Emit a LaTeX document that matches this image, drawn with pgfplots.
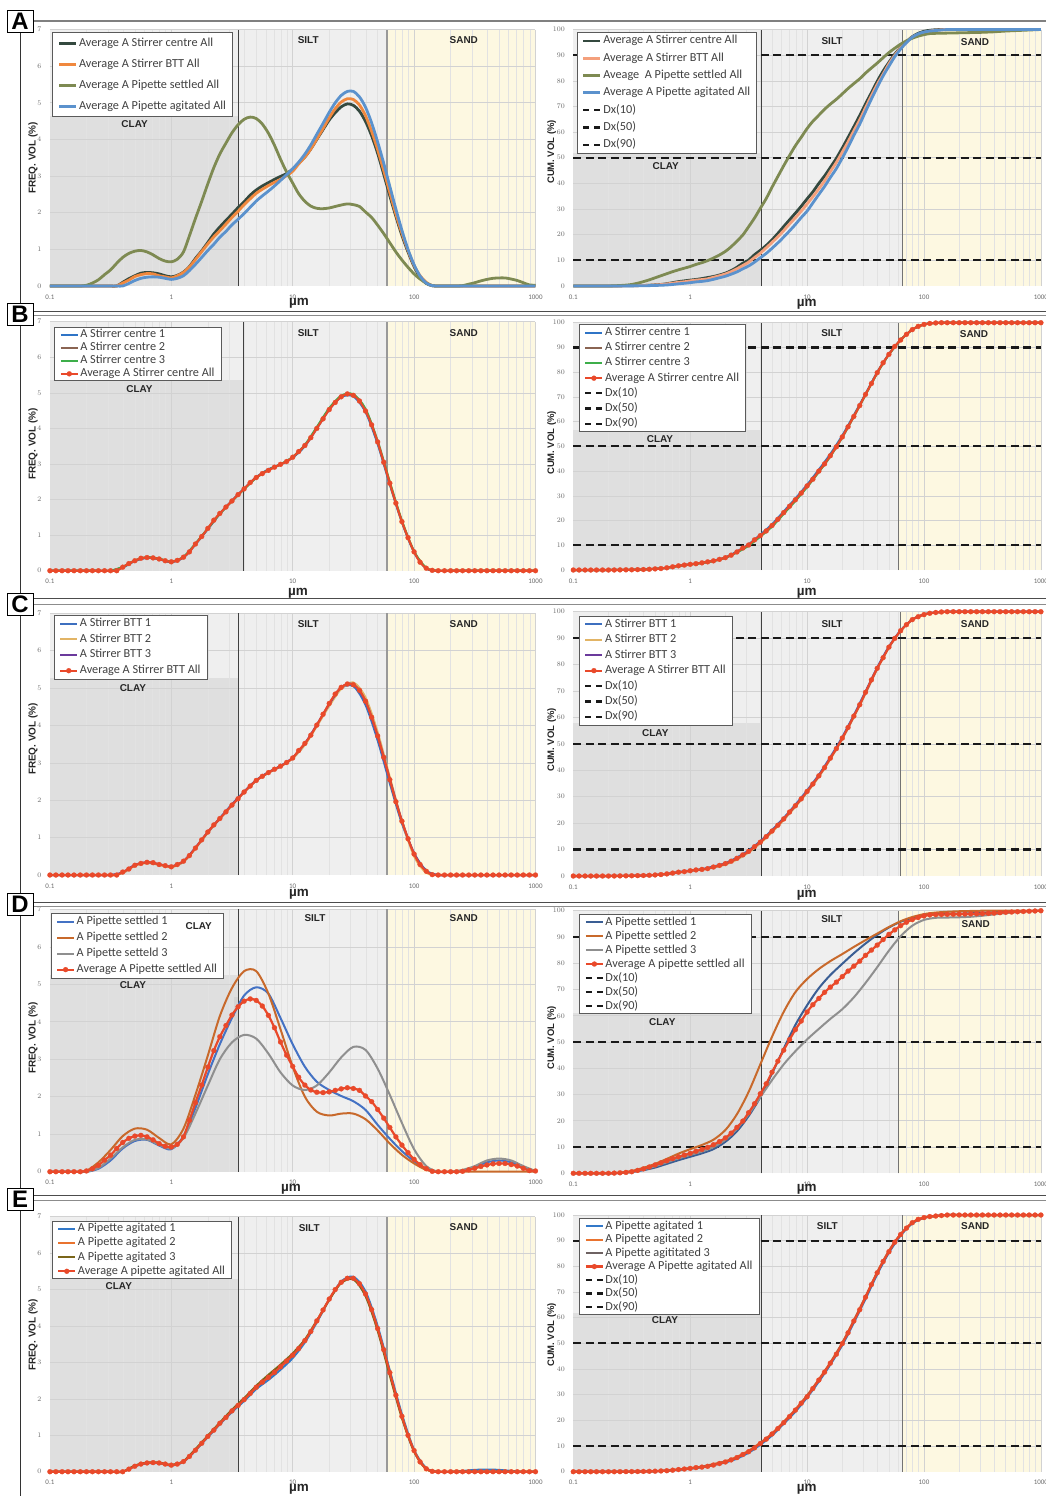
\documentclass[border=0pt]{standalone}
\usepackage{pgfplots}
\pgfplotsset{compat=1.18}
\usepackage{pgfplotstable}
\usepackage{fontspec}
\setmainfont{Carlito}
\newfontfamily\arialf{Liberation Sans}

\definecolor{clayc}{HTML}{DFDFDF}
\definecolor{siltc}{HTML}{EFEFEF}
\definecolor{sandc}{HTML}{FDF8E1}
\definecolor{gridmaj}{HTML}{D2D2D2}
\definecolor{gridmin}{HTML}{E2E2E2}
\definecolor{tickc}{HTML}{6A6A6A}
\definecolor{legtext}{HTML}{404040}
\definecolor{legdraw}{HTML}{5A5A5A}
\definecolor{cAcent}{HTML}{34493F}
\definecolor{cAbttL}{HTML}{F0883E}
\definecolor{cAbttR}{HTML}{F4A07C}
\definecolor{cAset}{HTML}{7E8A52}
\definecolor{cAagi}{HTML}{5B92CD}
\definecolor{cRed}{HTML}{E9492A}
\definecolor{cBone}{HTML}{2F74C6}
\definecolor{cBtwo}{HTML}{8A6452}
\definecolor{cBthree}{HTML}{3DAE4A}
\definecolor{cCone}{HTML}{3D6FBF}
\definecolor{cCtwo}{HTML}{E2B465}
\definecolor{cCthree}{HTML}{6B3A9C}
\definecolor{cDone}{HTML}{4472C4}
\definecolor{cDoneR}{HTML}{3A5E94}
\definecolor{cDtwo}{HTML}{C8692B}
\definecolor{cDthree}{HTML}{8F8F8F}
\definecolor{cEone}{HTML}{3278C8}
\definecolor{cEtwo}{HTML}{E9732F}
\definecolor{cEthreeL}{HTML}{7A6519}
\definecolor{cEthreeR}{HTML}{6E6262}

% ---------- averages of every set, 20 size classes per decade ----------
% Bf..Ef: FREQ. VOL (%) ; Bc..Ec: CUM. VOL (%)
\pgfplotstableread{
x Bf Cf Df Ef Bc Cc Dc Ec
0.1 0 0 0 0 0 0 0 0
0.112 0 0 0 0 0 0 0 0
0.126 0 0 0 0 0 0 0 0
0.141 0 0 0 0 0 0 0 0
0.158 0 0 0 0 0 0 0 0
0.178 0 0 0 0 0 0 0 0
0.2 0 0 0.02 0 0 0 0.02 0
0.224 0 0 0.08 0 0.02 0.02 0.08 0
0.251 0 0 0.17 0 0.05 0.05 0.2 0.02
0.282 0 0 0.31 0 0.08 0.07 0.35 0.04
0.316 0 0 0.44 0 0.1 0.1 0.6 0.05
0.355 0 0 0.62 0 0.15 0.15 1.1 0.08
0.398 0.1 0.08 0.78 0 0.2 0.2 1.7 0.1
0.447 0.2 0.16 0.89 0.07 0.3 0.28 2.4 0.15
0.501 0.28 0.26 0.95 0.15 0.45 0.4 3.2 0.2
0.562 0.35 0.31 0.97 0.21 0.6 0.55 4 0.3
0.631 0.37 0.34 0.93 0.24 0.9 0.8 4.8 0.4
0.708 0.36 0.33 0.85 0.25 1.3 1.1 5.6 0.6
0.794 0.33 0.28 0.75 0.24 1.7 1.45 6.3 0.85
0.891 0.28 0.25 0.68 0.21 2 1.65 6.95 1.05
1 0.25 0.22 0.66 0.18 2.3 2 7.6 1.3
1.12 0.29 0.28 0.73 0.21 2.55 2.3 8.4 1.6
1.26 0.38 0.37 0.93 0.28 2.9 2.5 9.1 1.8
1.41 0.53 0.52 1.37 0.42 3.3 2.8 9.9 2.1
1.58 0.75 0.72 1.84 0.59 3.7 3.4 10.9 2.6
1.78 0.96 0.94 2.31 0.78 4.3 4 12.1 3.2
2 1.19 1.15 2.79 0.97 5 4.7 13.5 3.8
2.24 1.42 1.34 3.23 1.14 6 5.6 15.3 4.6
2.51 1.61 1.51 3.6 1.33 7.3 6.7 17.5 5.5
2.82 1.79 1.69 3.9 1.49 8.9 8 19.9 6.7
3.16 1.96 1.87 4.18 1.67 10.1 9.3 23.1 7.8
3.55 2.14 2.04 4.4 1.82 12.2 11.1 26.5 9.3
3.98 2.3 2.22 4.55 1.98 13.9 12.8 30.3 11
4.47 2.48 2.38 4.61 2.15 15.8 14.9 34.1 12.7
5.01 2.62 2.53 4.57 2.32 18 17 38.5 14.7
5.62 2.73 2.64 4.42 2.46 20.5 19.2 42.7 16.8
6.31 2.82 2.74 4.17 2.59 23.2 21.6 46.9 19.1
7.08 2.91 2.83 3.84 2.73 25.8 24.2 50.9 21.5
7.94 2.99 2.91 3.46 2.88 28.4 26.6 54.7 24
8.91 3.07 3.01 3.11 3.04 31.1 29.2 58 26.7
10 3.19 3.13 2.81 3.2 34 32 61.4 29.2
11.2 3.35 3.33 2.52 3.38 36.7 34.8 64.2 32.4
12.6 3.52 3.52 2.31 3.6 40 37.9 66.6 35.7
14.1 3.74 3.74 2.18 3.85 42.9 41 68.9 38.8
15.8 4 4.01 2.12 4.14 46.2 44.6 70.9 42.3
17.8 4.27 4.3 2.11 4.44 49.8 48.2 72.8 45.8
20 4.53 4.59 2.13 4.74 53.8 52.2 74.9 49.9
22.4 4.73 4.84 2.17 5 57.9 56.2 77 54.1
25.1 4.89 5.02 2.21 5.2 62.1 60.5 78.9 58.7
28.2 4.97 5.11 2.24 5.31 66.5 64.8 80.8 63.1
31.6 4.93 5.09 2.22 5.31 71 69.5 83 68
35.5 4.77 4.94 2.17 5.16 75.4 74.2 85 72.9
39.8 4.49 4.65 2.02 4.88 79.8 78.6 86.9 77.5
44.7 4.1 4.22 1.87 4.45 83.8 82.6 89 81.9
50.1 3.62 3.72 1.66 3.93 87.2 86.6 91 85.7
56.2 3.05 3.15 1.43 3.35 90.4 89.9 92.7 89.4
63.1 2.46 2.55 1.18 2.72 93 92.8 94.3 92.4
70.8 1.9 1.96 0.93 2.1 95.3 95.1 95.6 94.9
79.4 1.38 1.44 0.71 1.52 97.2 97 96.6 97
89.1 0.93 0.97 0.51 1 98.5 98.1 97.4 98.3
100 0.53 0.56 0.33 0.58 99.3 98.9 98 99
112 0.24 0.28 0.19 0.27 99.7 99.4 98.4 99.4
126 0.07 0.1 0.08 0.08 99.9 99.7 98.5 99.6
141 0.01 0.01 0.01 0.01 100 99.9 98.55 99.8
158 0 0 0 0 100 100 98.6 100
178 0 0 0 0 100 100 98.65 100
200 0 0 0 0 100 100 98.7 100
224 0 0 0 0 100 100 98.75 100
251 0 0 0.01 0 100 100 98.8 100
282 0 0 0.05 0 100 100 98.85 100
316 0 0 0.09 0 100 100 98.9 100
355 0 0 0.14 0 100 100 99 100
398 0 0 0.18 0 100 100 99.1 100
447 0 0 0.21 0 100 100 99.25 100
501 0 0 0.22 0 100 100 99.4 100
562 0 0 0.22 0 100 100 99.5 100
631 0 0 0.19 0 100 100 99.6 100
708 0 0 0.15 0 100 100 99.7 100
794 0 0 0.09 0 100 100 99.8 100
891 0 0 0.03 0 100 100 99.9 100
1000 0 0 0.02 0 100 100 100 100
}\tabAvg

% ---------- individual runs, FREQ. VOL (%) ----------
\pgfplotstableread{
x s1 s2 s3
0.1 0 0 0
0.126 0 0 0
0.158 0 0 0
0.2 0 0 0
0.251 0 0 0
0.316 0 0 0
0.398 0.09 0.1 0.11
0.501 0.27 0.28 0.29
0.631 0.36 0.37 0.38
0.794 0.32 0.33 0.34
1 0.24 0.25 0.26
1.26 0.37 0.38 0.39
1.58 0.74 0.75 0.76
2 1.17 1.18 1.19
2.51 1.6 1.6 1.6
3.16 1.97 1.96 1.95
3.98 2.31 2.3 2.29
5.01 2.63 2.62 2.61
6.31 2.85 2.84 2.83
7.94 2.99 2.99 2.99
10 3.18 3.19 3.2
12.6 3.5 3.52 3.54
15.8 4 4.02 4.04
20 4.53 4.55 4.57
25.1 4.88 4.9 4.92
31.6 4.9 4.94 4.96
39.8 4.46 4.52 4.55
50.1 3.56 3.6 3.65
63.1 2.42 2.45 2.5
79.4 1.36 1.38 1.41
100 0.52 0.53 0.55
126 0.06 0.07 0.08
158 0 0 0
200 0 0 0
251 0 0 0
316 0 0 0
398 0 0 0
501 0 0 0
631 0 0 0
794 0 0 0
1000 0 0 0
}\tabBf

\pgfplotstableread{
x s1 s2 s3
0.1 0 0 0
0.126 0 0 0
0.158 0 0 0
0.2 0 0 0
0.251 0 0 0
0.316 0 0 0
0.398 0.06 0.05 0.07
0.501 0.26 0.25 0.27
0.631 0.33 0.32 0.34
0.794 0.28 0.27 0.29
1 0.22 0.21 0.23
1.26 0.36 0.35 0.37
1.58 0.72 0.71 0.73
2 1.14 1.13 1.15
2.51 1.52 1.5 1.51
3.16 1.89 1.87 1.88
3.98 2.23 2.21 2.22
5.01 2.54 2.52 2.53
6.31 2.75 2.73 2.74
7.94 2.92 2.9 2.91
10 3.13 3.12 3.14
12.6 3.5 3.48 3.52
15.8 4 3.98 4.02
20 4.56 4.52 4.57
25.1 5 4.98 5.02
31.6 5.05 5.15 5.1
39.8 4.55 4.75 4.65
50.1 3.6 3.82 3.72
63.1 2.45 2.62 2.56
79.4 1.38 1.45 1.45
100 0.58 0.5 0.58
126 0.12 0.06 0.1
158 0 0 0
200 0 0 0
251 0 0 0
316 0 0 0
398 0 0 0
501 0 0 0
631 0 0 0
794 0 0 0
1000 0 0 0
}\tabCf

\pgfplotstableread{
x s1 s2 s3
0.1 0 0 0
0.126 0 0 0
0.158 0 0 0
0.2 0 0.03 0
0.251 0.08 0.25 0.1
0.316 0.3 0.58 0.35
0.398 0.62 0.95 0.65
0.501 0.82 1.15 0.85
0.631 0.85 1.12 0.86
0.794 0.7 0.9 0.72
1 0.6 0.73 0.62
1.26 0.95 1.15 0.9
1.58 1.7 2.05 1.55
2 2.6 3.1 2.3
2.51 3.4 4.15 3
3.16 4.1 4.9 3.45
3.98 4.7 5.35 3.65
5.01 4.92 5.35 3.55
6.31 4.75 4.75 3.15
7.94 4.1 3.8 2.65
10 3.4 2.8 2.3
12.6 2.8 2 2.18
15.8 2.4 1.6 2.3
20 2.18 1.5 2.65
25.1 2.02 1.55 3.05
31.6 1.88 1.55 3.33
39.8 1.65 1.4 3.25
50.1 1.25 1.1 2.75
63.1 0.88 0.75 2.05
79.4 0.55 0.45 1.3
100 0.28 0.22 0.6
126 0.06 0.05 0.15
158 0 0 0
200 0 0 0
251 0.02 0 0.05
316 0.12 0 0.15
398 0.25 0 0.3
501 0.3 0 0.35
631 0.25 0 0.3
794 0.1 0 0.15
1000 0 0 0.02
}\tabDf

\pgfplotstableread{
x s1 s2 s3
0.1 0 0 0
0.126 0 0 0
0.158 0 0 0
0.2 0 0 0
0.251 0 0 0
0.316 0 0 0
0.398 0 0 0
0.501 0.15 0.16 0.17
0.631 0.23 0.24 0.25
0.794 0.23 0.24 0.25
1 0.17 0.18 0.19
1.26 0.27 0.28 0.29
1.58 0.58 0.6 0.62
2 0.95 0.97 0.99
2.51 1.3 1.32 1.35
3.16 1.64 1.67 1.7
3.98 1.94 1.98 2.02
5.01 2.27 2.32 2.36
6.31 2.52 2.6 2.66
7.94 2.8 2.88 2.94
10 3.12 3.2 3.25
12.6 3.55 3.6 3.63
15.8 4.1 4.13 4.15
20 4.72 4.72 4.72
25.1 5.22 5.2 5.18
31.6 5.35 5.31 5.28
39.8 4.95 4.88 4.82
50.1 4 3.93 3.87
63.1 2.78 2.7 2.64
79.4 1.58 1.52 1.47
100 0.6 0.57 0.55
126 0.1 0.08 0.07
158 0 0 0
200 0 0 0
251 0.02 0 0
316 0.05 0 0
398 0.06 0 0
501 0.05 0 0
631 0.02 0 0
794 0 0 0
1000 0 0 0
}\tabEf

% ---------- individual runs, CUM. VOL (%) ----------
\pgfplotstableread{
x s1 s2 s3
0.1 0 0 0
0.126 0 0 0
0.158 0 0 0
0.2 0 0 0
0.251 0.05 0.05 0.05
0.316 0.1 0.1 0.1
0.398 0.2 0.2 0.2
0.501 0.5 0.5 0.5
0.631 0.9 0.9 0.9
0.794 1.7 1.7 1.6
1 2.3 2.3 2.2
1.26 2.9 2.9 2.8
1.58 3.8 3.7 3.6
2 5.1 5 4.9
2.51 7.5 7.3 7.1
3.16 10.4 10.1 9.8
3.98 14.3 13.9 13.5
5.01 18.5 18 17.5
6.31 23.7 23.2 22.7
7.94 28.9 28.4 27.9
10 34.5 34 33.5
12.6 40.6 40.1 39.6
15.8 46.9 46.4 45.9
20 54.4 54 53.6
25.1 62.6 62.3 62
31.6 71.2 71 70.8
39.8 80 79.8 79.6
50.1 87.3 87.2 87.1
63.1 93 93 93
79.4 97.2 97.2 97.2
100 99.3 99.3 99.3
126 99.9 99.9 99.9
158 100 100 100
200 100 100 100
251 100 100 100
316 100 100 100
398 100 100 100
501 100 100 100
631 100 100 100
794 100 100 100
1000 100 100 100
}\tabBc

\pgfplotstableread{
x s1 s2 s3
0.1 0 0 0
0.126 0 0 0
0.158 0 0 0
0.2 0 0 0
0.251 0.05 0.05 0.05
0.316 0.1 0.1 0.1
0.398 0.2 0.2 0.2
0.501 0.4 0.4 0.4
0.631 0.8 0.8 0.8
0.794 1.5 1.3 1.4
1 2.1 1.9 2
1.26 2.6 2.4 2.5
1.58 3.6 3.2 3.4
2 4.9 4.3 4.6
2.51 7 6.2 6.6
3.16 9.7 8.9 9.3
3.98 13.2 12.4 12.8
5.01 17.4 16.6 17
6.31 22 21.2 21.6
7.94 27 26.2 26.6
10 32.4 31.6 32
12.6 38.3 37.5 37.9
15.8 45 44.2 44.6
20 52.6 51.8 52.2
25.1 60.9 60.1 60.5
31.6 69.8 69 69.4
39.8 78.9 78.3 78.6
50.1 86.8 86.4 86.6
63.1 92.9 92.7 92.8
79.4 97 97 97
100 99 99 99
126 99.7 99.7 99.7
158 100 100 100
200 100 100 100
251 100 100 100
316 100 100 100
398 100 100 100
501 100 100 100
631 100 100 100
794 100 100 100
1000 100 100 100
}\tabCc

\pgfplotstableread{
x s1 s2 s3
0.1 0 0 0
0.126 0 0 0
0.158 0 0 0
0.2 0 0 0
0.251 0.1 0.3 0.1
0.316 0.5 0.9 0.6
0.398 1.2 2.1 1.5
0.501 2.2 3.6 2.7
0.631 3.6 5.5 4.2
0.794 5 7.5 5.7
1 6.3 9.2 7
1.26 7.6 10.8 8.3
1.58 9.2 12.8 10
2 12 16.5 12.8
2.51 16 22.5 17
3.16 21.8 31 22.5
3.98 29 41.5 29
5.01 38 52 35.5
6.31 47.5 61.5 41.5
7.94 56.5 69 46.5
10 64 74 51
12.6 70.5 77.8 55
15.8 75.5 80.8 58.8
20 79.8 83.5 62.5
25.1 83.8 86.2 67
31.6 87.5 88.8 72.5
39.8 90.8 91.3 78.5
50.1 93.6 93.8 84.8
63.1 95.8 96 90.3
79.4 97.3 97.6 94.3
100 98.3 98.7 96.5
126 98.8 99.3 97.3
158 98.9 99.6 97.4
200 98.9 99.8 97.5
251 99 99.9 97.7
316 99.2 100 98.1
398 99.4 100 98.6
501 99.6 100 99.1
631 99.8 100 99.5
794 99.9 100 99.8
1000 100 100 100
}\tabDc

\pgfplotstableread{
x s1 s2 s3
0.1 0 0 0
0.126 0 0 0
0.158 0 0 0
0.2 0 0 0
0.251 0 0 0
0.316 0.05 0.05 0.05
0.398 0.1 0.1 0.1
0.501 0.2 0.2 0.2
0.631 0.4 0.5 0.5
0.794 0.7 0.9 0.8
1 1.2 1.4 1.3
1.26 1.7 2 1.9
1.58 2.6 3 2.8
2 3.6 4.1 3.9
2.51 5.1 5.8 5.5
3.16 7.4 8.2 7.9
3.98 10.5 11.3 11
5.01 14.1 14.9 14.6
6.31 18.7 19.5 19.2
7.94 23.4 24.3 24
10 28.9 29.8 29.5
12.6 35.1 36 35.7
15.8 41.7 42.6 42.3
20 49.3 50.3 50
25.1 58 59 58.7
31.6 67.3 68.3 68
39.8 76.9 77.8 77.5
50.1 85.3 86.1 85.8
63.1 92 92.6 92.4
79.4 96.7 97 96.9
100 98.9 99 99
126 99.6 99.6 99.6
158 100 100 100
200 100 100 100
251 100 100 100
316 100 100 100
398 100 100 100
501 100 100 100
631 100 100 100
794 100 100 100
1000 100 100 100
}\tabEc

\tikzset{
  myser/.style={line width=2bp, smooth, mark=none},
  myaser/.style={line width=2.8bp, smooth, mark=none},
  myavg/.style={color=cRed, line width=2.2bp, smooth, mark=*, mark size=2.5bp,
    mark options={solid, fill=cRed, draw=cRed, line width=0.2bp}},
  mydx/.style={color=black!90, line width=2.2bp, dash pattern=on 8bp off 4.5bp},
  mydxl/.style={color=black!90, line width=2.2bp, dash pattern=on 6bp off 5bp},
  myleg/.style={anchor=north west, draw=legdraw, line width=0.8bp, fill=white,
      font=\fontsize{12.3}{12.3}\selectfont, text=legtext, inner xsep=5bp,
      nodes={inner xsep=1.5bp, inner ysep=0bp, text height=8.5bp, text depth=2.5bp}},
  mytick/.style={font=\fontsize{7}{7}\selectfont, text=tickc},
}

% grid drawn by hand: #1 = ymax, #2 = list of y grid values
\newcommand{\mygrid}[2]{%
  \pgfplotsinvokeforeach{0.2,0.3,0.4,0.5,0.6,0.7,0.8,0.9,2,3,4,5,6,7,8,9,20,30,40,50,60,70,80,90,200,300,400,500,600,700,800,900}{%
    \draw[gridmin, line width=0.5bp] (axis cs:##1,0) -- (axis cs:##1,#1);}
  \pgfplotsinvokeforeach{1,10,100,1000}{%
    \draw[gridmaj, line width=0.6bp] (axis cs:##1,0) -- (axis cs:##1,#1);}
  \pgfplotsinvokeforeach{#2}{%
    \draw[gridmaj, line width=0.6bp] (axis cs:0.1,##1) -- (axis cs:1000,##1);}
}
% background of a frequency panel: #1 clay top, #2 clay/silt boundary
\newcommand{\bgL}[2]{%
  \addplot[draw=none, fill=siltc, forget plot] coordinates {(0.1,0) (0.1,7) (60,7) (60,0)};
  \addplot[draw=none, fill=sandc, forget plot] coordinates {(60,0) (60,7) (1000,7) (1000,0)};
  \addplot[draw=none, fill=clayc, forget plot] coordinates {(0.1,0) (0.1,#1) (#2,#1) (#2,0)};
  \mygrid{7}{1,2,3,4,5,6,7}
  \draw[black!75, line width=0.9bp] (axis cs:#2,0) -- (axis cs:#2,7);
  \draw[black!40, line width=1.5bp] (axis cs:60,0) -- (axis cs:60,7);
}
% background of a cumulative panel: #1 clay top, #2 clay/silt, #3 silt/sand
\newcommand{\bgR}[3]{%
  \addplot[draw=none, fill=siltc, forget plot] coordinates {(0.1,0) (0.1,100) (#3,100) (#3,0)};
  \addplot[draw=none, fill=sandc, forget plot] coordinates {(#3,0) (#3,100) (1000,100) (1000,0)};
  \addplot[draw=none, fill=clayc, forget plot] coordinates {(0.1,0) (0.1,#1) (#2,#1) (#2,0)};
  \mygrid{100}{10,20,30,40,50,60,70,80,90,100}
  \draw[black!75, line width=0.9bp] (axis cs:#2,0) -- (axis cs:#2,100);
  \draw[black!55, line width=1.1bp] (axis cs:#3,0) -- (axis cs:#3,100);
  \addplot[mydx, forget plot] coordinates {(0.1,10) (1000,10)};
  \addplot[mydx, forget plot] coordinates {(0.1,50) (1000,50)};
  \addplot[mydx, forget plot] coordinates {(0.1,90) (1000,90)};
}
\newcommand{\dxleg}{\addlegendimage{mydxl}\addlegendimage{mydxl}\addlegendimage{mydxl}}

\newcommand{\reg}[3]{\node[font=\arialf\bfseries\fontsize{10}{10}\selectfont, text=black!85] at (#1bp,-#2bp) {#3};}
\newcommand{\mum}[2]{\node[font=\arialf\bfseries\fontsize{13.5}{13.5}\selectfont, text=black!85] at (#1bp,-#2bp) {µm};}
\newcommand{\fyl}[1]{\node[rotate=90, font=\arialf\bfseries\fontsize{10}{10}\selectfont, text=black!85] at (33bp,-#1bp) {FREQ. VOL (\%)};}
\newcommand{\cyl}[1]{\node[rotate=90, font=\arialf\bfseries\fontsize{9.5}{9.5}\selectfont, text=black!85] at (551.7bp,-#1bp) {CUM. VOL (\%)};}
\newcommand{\letterbox}[2]{\node[draw=black, line width=1bp, fill=white, minimum width=26bp, minimum height=22bp, inner sep=0pt, font=\arialf\bfseries\fontsize{24}{24}\selectfont] at (20bp,-#1bp) {#2};}

\begin{document}
\begin{tikzpicture}
\path[use as bounding box] (0bp,0bp) rectangle (1046bp,-1496bp);
\fill[white] (0bp,0bp) rectangle (1046bp,-1496bp);

% ================= A =================
\begin{axis}[xmode=log, scale only axis, width=485.6bp, height=256.5bp,
  at={(49.9bp,-286bp)}, anchor=south west,
  xmin=0.1, xmax=1000, ymin=0, ymax=7, ytick={0,1,2,3,4,5,6,7},
  xtick={0.1,1,10,100,1000}, xticklabels={0.1,1,10,100,1000},
  clip=false, axis line style={draw=none}, tick style={draw=none},
  tick label style={mytick}, xticklabel shift=5bp, yticklabel shift=5bp,
  legend cell align=left, legend style={myleg, at={(0.005,0.989)}, row sep=10bp, inner ysep=5bp}]
\bgL{4.63}{3.56}
\addplot[myaser, cAcent] table[x=x,y=Bf]{\tabAvg};
\addplot[myaser, cAbttL] table[x=x,y=Cf]{\tabAvg};
\addplot[myaser, cAset] table[x=x,y=Df]{\tabAvg};
\addplot[myaser, cAagi] table[x=x,y=Ef]{\tabAvg};
\legend{Average A Stirrer centre All, Average A Stirrer BTT All, Average A Pipette settled All, Average A Pipette agitated All}
\end{axis}

\begin{axis}[xmode=log, scale only axis, width=467.6bp, height=256.5bp,
  at={(573.3bp,-286bp)}, anchor=south west,
  xmin=0.1, xmax=1000, ymin=0, ymax=100, ytick={0,10,20,30,40,50,60,70,80,90,100},
  xtick={0.1,1,10,100,1000}, xticklabels={0.1,1,10,100,1000},
  clip=false, axis line style={draw=none}, tick style={draw=none},
  tick label style={mytick}, xticklabel shift=5bp, yticklabel shift=5bp,
  legend cell align=left, legend style={myleg, at={(0.007,0.991)}, row sep=6.3bp, inner ysep=3.2bp}]
\bgR{52}{4.05}{65}
\addplot[myaser, cAcent] table[x=x,y=Bc]{\tabAvg};
\addplot[myaser, cAbttR] table[x=x,y=Cc]{\tabAvg};
\addplot[myaser, cAset] table[x=x,y=Dc]{\tabAvg};
\addplot[myaser, cAagi] table[x=x,y=Ec]{\tabAvg};
\dxleg
\legend{Average A Stirrer centre All, Average A Stirrer BTT All, Aveage\ \ A Pipette settled All, Average A Pipette agitated All, Dx(10), Dx(50), Dx(90)}
\end{axis}

% ================= B =================
\begin{axis}[xmode=log, scale only axis, width=485.6bp, height=249bp,
  at={(49.9bp,-570.7bp)}, anchor=south west,
  xmin=0.1, xmax=1000, ymin=0, ymax=7, ytick={0,1,2,3,4,5,6,7},
  xtick={0.1,1,10,100,1000}, xticklabels={0.1,1,10,100,1000},
  clip=false, axis line style={draw=none}, tick style={draw=none},
  tick label style={mytick}, xticklabel shift=5bp, yticklabel shift=5bp,
  legend cell align=left, legend style={myleg, at={(0.009,0.977)}, row sep=2bp, inner ysep=1.5bp}]
\bgL{5.36}{3.93}
\addplot[myser, cBone] table[x=x,y=s1]{\tabBf};
\addplot[myser, cBtwo] table[x=x,y=s2]{\tabBf};
\addplot[myser, cBthree] table[x=x,y=s3]{\tabBf};
\addplot[myavg] table[x=x,y=Bf]{\tabAvg};
\legend{A Stirrer centre 1, A Stirrer centre 2, A Stirrer centre 3, Average A Stirrer centre All}
\end{axis}

\begin{axis}[xmode=log, scale only axis, width=467.6bp, height=247.3bp,
  at={(573.3bp,-570bp)}, anchor=south west,
  xmin=0.1, xmax=1000, ymin=0, ymax=100, ytick={0,10,20,30,40,50,60,70,80,90,100},
  xtick={0.1,1,10,100,1000}, xticklabels={0.1,1,10,100,1000},
  clip=false, axis line style={draw=none}, tick style={draw=none},
  tick label style={mytick}, xticklabel shift=5bp, yticklabel shift=5bp,
  legend cell align=left, legend style={myleg, at={(0.012,0.994)}, row sep=4.2bp, inner ysep=2.5bp}]
\bgR{56.6}{4.05}{60}
\addplot[myser, cBone] table[x=x,y=s1]{\tabBc};
\addplot[myser, cBtwo] table[x=x,y=s2]{\tabBc};
\addplot[myser, cBthree] table[x=x,y=s3]{\tabBc};
\addplot[myavg] table[x=x,y=Bc]{\tabAvg};
\dxleg
\legend{A Stirrer centre 1, A Stirrer centre 2, A Stirrer centre 3, Average A Stirrer centre All, Dx(10), Dx(50), Dx(90)}
\end{axis}

% ================= C =================
\begin{axis}[xmode=log, scale only axis, width=485.6bp, height=261.7bp,
  at={(49.9bp,-875bp)}, anchor=south west,
  xmin=0.1, xmax=1000, ymin=0, ymax=7, ytick={0,1,2,3,4,5,6,7},
  xtick={0.1,1,10,100,1000}, xticklabels={0.1,1,10,100,1000},
  clip=false, axis line style={draw=none}, tick style={draw=none},
  tick label style={mytick}, xticklabel shift=5bp, yticklabel shift=5bp,
  legend cell align=left, legend style={myleg, at={(0.008,0.994)}, row sep=4.7bp, inner ysep=2.8bp}]
\bgL{5.26}{3.56}
\addplot[myser, cCone] table[x=x,y=s1]{\tabCf};
\addplot[myser, cCtwo] table[x=x,y=s2]{\tabCf};
\addplot[myser, cCthree] table[x=x,y=s3]{\tabCf};
\addplot[myavg] table[x=x,y=Cf]{\tabAvg};
\legend{A Stirrer BTT 1, A Stirrer BTT 2, A Stirrer BTT 3, Average A Stirrer BTT All}
\end{axis}

\begin{axis}[xmode=log, scale only axis, width=467.6bp, height=264.3bp,
  at={(573.3bp,-876bp)}, anchor=south west,
  xmin=0.1, xmax=1000, ymin=0, ymax=100, ytick={0,10,20,30,40,50,60,70,80,90,100},
  xtick={0.1,1,10,100,1000}, xticklabels={0.1,1,10,100,1000},
  clip=false, axis line style={draw=none}, tick style={draw=none},
  tick label style={mytick}, xticklabel shift=5bp, yticklabel shift=5bp,
  legend cell align=left, legend style={myleg, at={(0.012,0.984)}, row sep=4.4bp, inner ysep=2.6bp}]
\bgR{57.8}{4.1}{62.7}
\addplot[myser, cCone] table[x=x,y=s1]{\tabCc};
\addplot[myser, cCtwo] table[x=x,y=s2]{\tabCc};
\addplot[myser, cCthree] table[x=x,y=s3]{\tabCc};
\addplot[myavg] table[x=x,y=Cc]{\tabAvg};
\dxleg
\legend{A Stirrer BTT 1, A Stirrer BTT 2, A Stirrer BTT 3, Average A Stirrer BTT All, Dx(10), Dx(50), Dx(90)}
\end{axis}

% ================= D =================
\begin{axis}[xmode=log, scale only axis, width=485.6bp, height=262.4bp,
  at={(49.9bp,-1171.7bp)}, anchor=south west,
  xmin=0.1, xmax=1000, ymin=0, ymax=7, ytick={0,1,2,3,4,5,6,7},
  xtick={0.1,1,10,100,1000}, xticklabels={0.1,1,10,100,1000},
  clip=false, axis line style={draw=none}, tick style={draw=none},
  tick label style={mytick}, xticklabel shift=5bp, yticklabel shift=5bp,
  legend cell align=left, legend style={myleg, at={(0.0015,0.987)}, row sep=5bp, inner ysep=3bp}]
\bgL{5.25}{3.56}
\addplot[draw=none, fill=black!17, forget plot] coordinates {(3.3,2.98) (3.3,4.67) (3.56,4.67) (3.56,2.98)};
\addplot[myser, cDone] table[x=x,y=s1]{\tabDf};
\addplot[myser, cDtwo] table[x=x,y=s2]{\tabDf};
\addplot[myser, cDthree] table[x=x,y=s3]{\tabDf};
\addplot[myavg] table[x=x,y=Df]{\tabAvg};
\legend{A Pipette settled 1, A Pipette settled 2, A Pipette setteld 3, Average A Pipette settled All}
\end{axis}

\begin{axis}[xmode=log, scale only axis, width=467.6bp, height=262.6bp,
  at={(573.3bp,-1173.3bp)}, anchor=south west,
  xmin=0.1, xmax=1000, ymin=0, ymax=100, ytick={0,10,20,30,40,50,60,70,80,90,100},
  xtick={0.1,1,10,100,1000}, xticklabels={0.1,1,10,100,1000},
  clip=false, axis line style={draw=none}, tick style={draw=none},
  tick label style={mytick}, xticklabel shift=5bp, yticklabel shift=5bp,
  legend cell align=left, legend style={myleg, at={(0.013,0.987)}, row sep=3bp, inner ysep=2bp}]
\bgR{61}{4.05}{61}
\addplot[myser, cDoneR] table[x=x,y=s1]{\tabDc};
\addplot[myser, cDtwo] table[x=x,y=s2]{\tabDc};
\addplot[myser, cDthree] table[x=x,y=s3]{\tabDc};
\addplot[myavg] table[x=x,y=Dc]{\tabAvg};
\dxleg
\legend{A Pipette settled 1, A Pipette settled 2, A Pipette settled 3, Average A pipette settled all, Dx(10), Dx(50), Dx(90)}
\end{axis}

% ================= E =================
\begin{axis}[xmode=log, scale only axis, width=485.6bp, height=255bp,
  at={(49.9bp,-1471.7bp)}, anchor=south west,
  xmin=0.1, xmax=1000, ymin=0, ymax=7, ytick={0,1,2,3,4,5,6,7},
  xtick={0.1,1,10,100,1000}, xticklabels={0.1,1,10,100,1000},
  clip=false, axis line style={draw=none}, tick style={draw=none},
  tick label style={mytick}, xticklabel shift=5bp, yticklabel shift=5bp,
  legend cell align=left, legend style={myleg, at={(0.004,0.984)}, row sep=3.2bp, inner ysep=2bp}]
\bgL{5.3}{3.56}
\addplot[myser, cEone] table[x=x,y=s1]{\tabEf};
\addplot[myser, cEtwo] table[x=x,y=s2]{\tabEf};
\addplot[myser, cEthreeL] table[x=x,y=s3]{\tabEf};
\addplot[myavg] table[x=x,y=Ef]{\tabAvg};
\legend{A Pipette agitated 1, A Pipette agitated 2, A Pipette agitated 3, Average A pipette agitated All}
\end{axis}

\begin{axis}[xmode=log, scale only axis, width=467.6bp, height=256.7bp,
  at={(573.3bp,-1471.7bp)}, anchor=south west,
  xmin=0.1, xmax=1000, ymin=0, ymax=100, ytick={0,10,20,30,40,50,60,70,80,90,100},
  xtick={0.1,1,10,100,1000}, xticklabels={0.1,1,10,100,1000},
  clip=false, axis line style={draw=none}, tick style={draw=none},
  tick label style={mytick}, xticklabel shift=5bp, yticklabel shift=5bp,
  legend cell align=left, legend style={myleg, at={(0.013,0.987)}, row sep=2.5bp, inner ysep=1.8bp}]
\bgR{61.7}{4.05}{65}
\addplot[myser, cEone] table[x=x,y=s1]{\tabEc};
\addplot[myser, cEtwo] table[x=x,y=s2]{\tabEc};
\addplot[myser, cEthreeR] table[x=x,y=s3]{\tabEc};
\addplot[myavg] table[x=x,y=Ec]{\tabAvg};
\dxleg
\legend{A Pipette agitated 1, A Pipette agitated 2, A Pipette agititated 3, Average A Pipette agitated All, Dx(10), Dx(50), Dx(90)}
\end{axis}

% ---------- region labels ----------
\reg{308.2}{40}{SILT} \reg{463.8}{40.3}{SAND} \reg{134.6}{124.3}{CLAY}
\reg{832}{40.7}{SILT} \reg{975}{41.7}{SAND} \reg{665.7}{165.7}{CLAY}
\reg{308.2}{333.3}{SILT} \reg{463.8}{333.3}{SAND} \reg{139.5}{389}{CLAY}
\reg{831.7}{332.7}{SILT} \reg{974}{333.7}{SAND} \reg{660}{438.7}{CLAY}
\reg{308.2}{624}{SILT} \reg{463.8}{624}{SAND} \reg{132.9}{688.3}{CLAY}
\reg{832}{623.7}{SILT} \reg{975}{624.3}{SAND} \reg{655.3}{733.3}{CLAY}
\reg{315}{917.7}{SILT} \reg{463.8}{917.7}{SAND} \reg{132.9}{984.7}{CLAY} \reg{198.7}{925.7}{CLAY}
\reg{831.7}{919.3}{SILT} \reg{975.7}{924}{SAND} \reg{662.3}{1021.7}{CLAY}
\reg{309.2}{1227.7}{SILT} \reg{463.8}{1226.7}{SAND} \reg{118.8}{1285.7}{CLAY}
\reg{827.3}{1225.7}{SILT} \reg{975.3}{1225.7}{SAND} \reg{665}{1320}{CLAY}

% ---------- axis titles ----------
\mum{299}{303.5} \mum{806.7}{304.5}
\mum{298}{593} \mum{806.7}{593}
\mum{299}{894.5} \mum{806.7}{895.5}
\mum{291}{1189.5} \mum{806.7}{1189.5}
\mum{299}{1489} \mum{806.7}{1489.5}
\fyl{158} \fyl{444} \fyl{739} \fyl{1038} \fyl{1335}
\cyl{152} \cyl{443} \cyl{740} \cyl{1038} \cyl{1335}

% ---------- separators and panel letters ----------
\draw[black!50, line width=1.3bp] (33bp,-21bp) -- (1046bp,-21bp);
\foreach \ya/\yb in {311.7/315, 598.5/604, 902/906.5, 1195.7/1200} {
  \draw[black!70, line width=1bp] (33bp,-\ya bp) -- (1046bp,-\ya bp);
  \draw[black!45, line width=1bp] (33bp,-\yb bp) -- (1046bp,-\yb bp);
}
\draw[black!80, line width=1bp] (20bp,-21bp) -- (20bp,-1496bp);
\letterbox{21.5}{A}
\letterbox{314.7}{B}
\letterbox{604}{C}
\letterbox{904}{D}
\letterbox{1199}{E}
\end{tikzpicture}
\end{document}
